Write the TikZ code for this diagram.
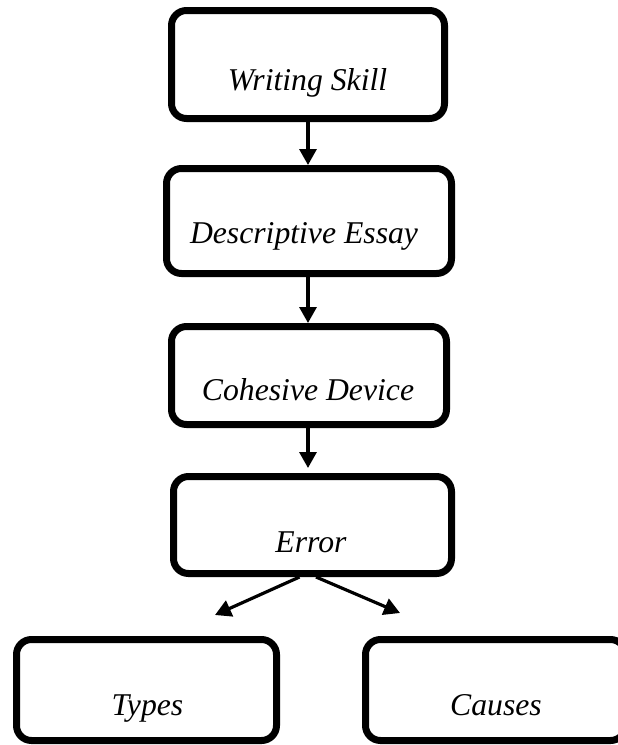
\documentclass[tikz,border=0pt]{standalone}
\usepackage{fontspec}
\setmainfont{Liberation Serif}
\usetikzlibrary{arrows.meta}
\tikzset{
  box/.style={draw=black, line width=7pt, rounded corners=15pt, fill=white, inner sep=0pt},
  lbl/.style={anchor=base, inner sep=0pt, font=\fontsize{31.7}{38}\selectfont\itshape},
  arr/.style={draw=black, line width=3.2pt, -{Triangle[length=16pt,width=17pt]}},
}
\begin{document}
\begin{tikzpicture}[x=1pt,y=-1pt]
\clip (0,0) rectangle (618,745);
\fill[white] (0,0) rectangle (618,745);
% boxes
\node[box, minimum width=273pt, minimum height=108pt] (b1) at (308,64.5) {};
\node[box, minimum width=285pt, minimum height=105pt] (b2) at (309,221) {};
\node[box, minimum width=275pt, minimum height=98pt] (b3) at (309,375.5) {};
\node[box, minimum width=278pt, minimum height=97pt] (b4) at (312.5,525) {};
\node[box, minimum width=260pt, minimum height=101pt] (b5) at (146.5,690) {};
\node[box, minimum width=260pt, minimum height=101pt] (b6) at (495.5,690) {};
% labels
\node[lbl] (t1) at (307.5,90) {Writing Skill};
\node[lbl] (t2) at (304,243) {Descriptive Essay};
\node[lbl] (t3) at (308,400) {Cohesive Device};
\node[lbl] (t4) at (311,552) {Error};
\node[lbl] (t5) at (147.5,715) {Types};
\node[lbl] (t6) at (496,715) {Causes};
% connectors
\draw[arr] (b1.south) -- (b1.south |- b2.north);
\draw[arr] (b2.south -| b1.south) -- (b1.south |- b3.north);
\draw[arr, shorten >=5pt] (b3.south -| b1.south) -- (b1.south |- b4.north);
\coordinate (e1) at (215,615);
\coordinate (e2) at (400,613);
\draw[arr] ([xshift=-13pt]b4.south) -- (e1);
\draw[arr] ([xshift=3.5pt]b4.south) -- (e2);
\end{tikzpicture}
\end{document}
